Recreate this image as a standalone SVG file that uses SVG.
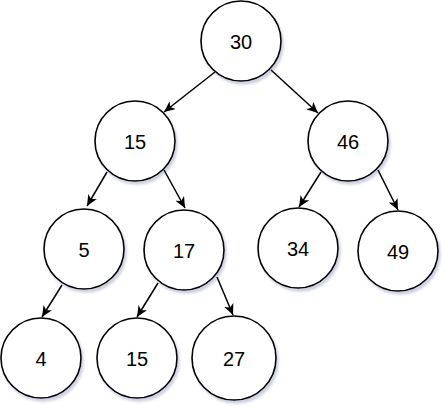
<svg xmlns="http://www.w3.org/2000/svg" width="445" height="407" viewBox="0 0 445 407">
<style>
.n circle{fill:#fff;stroke:#000;stroke-width:1.6;filter:url(#sh)}
.n text{font-family:"Liberation Sans",Arial,sans-serif;font-size:20px;fill:#000;text-anchor:middle}
.e line{stroke:#000;stroke-width:1.5;marker-end:url(#ah)}
</style>
<defs>
<filter id="sh" x="-20%" y="-20%" width="150%" height="150%">
<feGaussianBlur in="SourceAlpha" stdDeviation="1.2"/>
<feOffset dx="2" dy="3" result="b"/>
<feFlood flood-color="#3c4a80" flood-opacity="0.25"/>
<feComposite in2="b" operator="in"/>
<feMerge><feMergeNode/><feMergeNode in="SourceGraphic"/></feMerge>
</filter>
<marker id="ah" markerUnits="userSpaceOnUse" markerWidth="12" markerHeight="10" refX="11" refY="5" orient="auto">
<path d="M0,0 L11,5 L0,10 L3,5 z" fill="#000"/>
</marker>
</defs>
<g class="e">
<line x1="215" y1="72" x2="164" y2="112"/>
<line x1="271" y1="70" x2="318" y2="113"/>
<line x1="107" y1="172" x2="87" y2="206"/>
<line x1="164" y1="170" x2="185" y2="208"/>
<line x1="321" y1="172" x2="299" y2="207"/>
<line x1="378" y1="170" x2="398" y2="210"/>
<line x1="62" y1="285" x2="42" y2="317"/>
<line x1="158" y1="283" x2="137" y2="317"/>
<line x1="217" y1="277" x2="233" y2="315"/>
</g>
<g id="n30" class="n"><circle cx="241" cy="41" r="40"/><text x="241" y="48.5">30</text></g>
<g id="n15" class="n"><circle cx="135" cy="141" r="40"/><text x="135" y="148.5">15</text></g>
<g id="n46" class="n"><circle cx="348" cy="141" r="40"/><text x="348" y="148.5">46</text></g>
<g id="n5" class="n"><circle cx="84" cy="249" r="40"/><text x="84" y="256.5">5</text></g>
<g id="n17" class="n"><circle cx="184" cy="250" r="40"/><text x="184" y="257.5">17</text></g>
<g id="n34" class="n"><circle cx="298" cy="248" r="40"/><text x="298" y="255.5">34</text></g>
<g id="n49" class="n"><circle cx="398" cy="251" r="40"/><text x="398" y="258.5">49</text></g>
<g id="n4" class="n"><circle cx="41" cy="358" r="40"/><text x="41" y="365.5">4</text></g>
<g id="n15b" class="n"><circle cx="137" cy="358" r="40"/><text x="137" y="365.5">15</text></g>
<g id="n27" class="n"><circle cx="234" cy="358" r="42"/><text x="234" y="365.5">27</text></g>
</svg>
